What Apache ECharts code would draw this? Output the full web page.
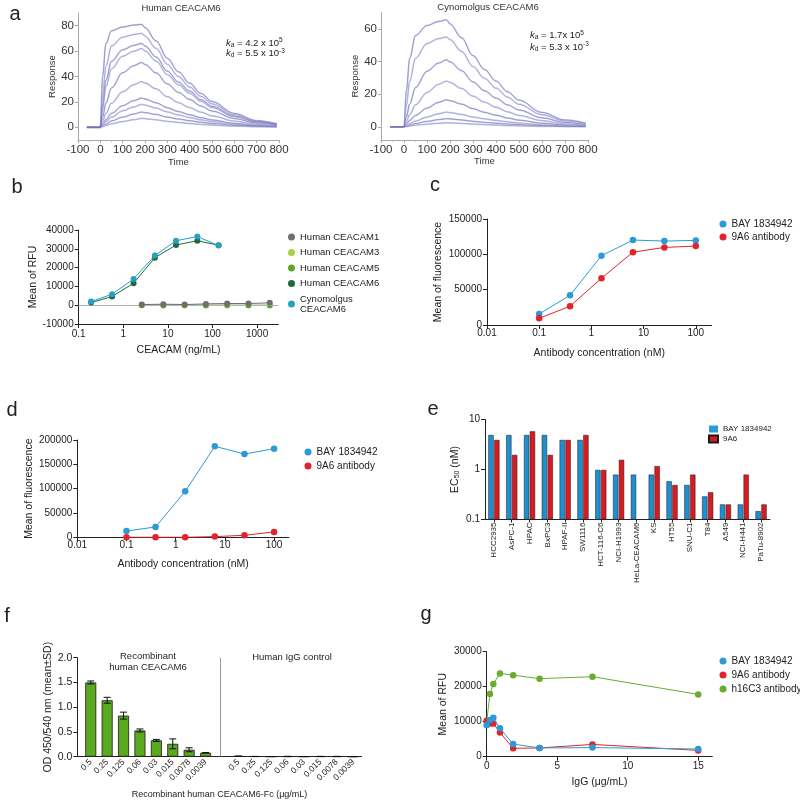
<!DOCTYPE html>
<html><head><meta charset="utf-8">
<script src="https://cdn.jsdelivr.net/npm/echarts@6/dist/echarts.min.js"></script>
<style>html,body{margin:0;padding:0;background:#fff}#c{width:800px;height:802px}</style>
</head><body><div id="c"></div>
<script>
// ---------- DATA ----------
// a: SPR sensorgrams (time in s, response)
const spr_time = [-60,0,10,25,50,100,150,185,200,250,300,350,400,450,500,600,700,790];
const spr_human = [
 [0,0,40,66,76,79,80.5,81,78.6,68,54.3,43.7,34.8,26.7,20.3,10.9,5.3,2.8],
 [0,0,25,48,64,71,73,74,71.8,62.2,49.6,40,31.8,24.4,18.5,10,4.8,2.6],
 [0,0,17,37,52,61,64.5,66,64,55.4,44.2,35.6,28.4,21.8,16.5,8.9,4.3,2.3],
 [0,0,14,32,46,56,60,62,60.1,52.1,41.5,33.5,26.7,20.5,15.5,8.4,4,2.2],
 [0,0,8,19,31,43,48.5,51,49.5,42.8,34.2,27.5,21.9,16.8,12.8,6.9,3.3,1.8],
 [0,0,4.5,11,19,28,33.5,36,34.9,30.2,24.1,19.4,15.5,11.9,9,4.9,2.3,1.3],
 [0,0,2.5,6,11,17,21,23,22.3,19.3,15.4,12.4,9.9,7.6,5.8,3.1,1.5,0.8],
 [0,0,2,4.5,8,13,16,18,17.5,15.1,12.1,9.7,7.7,5.9,4.5,2.4,1.2,0.6],
 [0,0,1,2.5,5,8,10.5,12,11.6,10.1,8,6.5,5.2,4,3,1.6,0.8,0.4],
 [0,0,0.5,1.5,2.7,4.5,6,7,6.8,5.9,4.7,3.8,3,2.3,1.8,0.9,0.5,0.2]
];
const spr_cyno = [
 [0,0,22,42,56,62,64.5,65.5,63,54.6,43.6,35.1,28,21.5,16.3,8.8,4.2,2.3],
 [0,0,13,28,42,51,54,55,53.4,46.2,36.9,29.7,23.7,18.2,13.8,7.4,3.6,1.9],
 [0,0,6,14,24,34,39,41,39.8,34.4,27.5,22.1,17.6,13.5,10.3,5.5,2.7,1.4],
 [0,0,3,7.5,13.5,21,26,28,27.2,23.5,18.8,15.1,12,9.2,7,3.8,1.8,1],
 [0,0,1.5,4,7,11.5,15,16.5,16,13.9,11.1,8.9,7.1,5.4,4.1,2.2,1.1,0.6],
 [0,0,0.7,2,3.5,6,8,9,8.7,7.6,6,4.9,3.9,3,2.3,1.2,0.6,0.3],
 [0,0,0.4,1,2,3.3,4.4,5,4.9,4.2,3.4,2.7,2.2,1.7,1.3,0.7,0.3,0.2],
 [0,0,0.2,0.5,1,1.6,2.2,2.5,2.4,2.1,1.7,1.4,1.1,0.8,0.6,0.3,0.2,0.1]
];
const a_ticksHuman = [0,20,40,60,80];
const a_ticksCyno = [0,20,40,60];

// b: CEACAM binding
const b_conc6 = [0.19,0.56,1.7,5.1,15.2,45.7,137];
const b_concOther = [2.6,7.9,23.7,71,213,640,1920];
const b_ceacam1 = [350,530,350,700,900,900,1250];
const b_ceacam3 = [-100,-150,-100,-100,-150,-150,-100];
const b_ceacam5 = [50,0,50,0,50,0,0];
const b_ceacam6 = [1400,4600,11700,25300,32000,34300,31900];
const b_cyno = [1950,5840,14000,26400,34300,36500,31700];

// c, d: antibody binding
const cd_conc = [0.1,0.39,1.56,6.25,25,100];
const c_bay = [15600,42100,98000,120200,118800,119700];
const c_9a6 = [9500,26500,66200,103000,109800,111700];
const d_bay = [13000,21200,94500,187000,171200,182200];
const d_9a6 = [100,100,100,1400,4100,11000];

// e: EC50 per cell line
const e_cells = ['HCC2935','AsPC-1','HPAC','BxPC3','HPAF-II','SW1116','HCT-116-C6','NCI-H1993','HeLa-CEACAM6','KS','HT55','SNU-C1','T84','A549','NCI-H441','PaTu-8902'];
const e_bay = [4.9,4.9,4.9,4.9,3.9,3.9,0.98,0.79,0.79,0.79,0.58,0.49,0.29,0.2,0.2,0.147];
const e_9a6 = [3.9,1.96,5.8,1.96,3.9,4.9,0.98,1.56,null,1.17,0.49,0.79,0.35,0.2,0.79,0.2];

// f: ELISA
const f_conc = ['0.5','0.25','0.125','0.06','0.03','0.015','0.0078','0.0039'];
const f_rec_mean = [1.50,1.14,0.83,0.53,0.33,0.26,0.14,0.08];
const f_rec_sd = [0.03,0.06,0.07,0.03,0.02,0.10,0.04,0.005];
const f_igg_mean = [0.01,0.005,0.003,0.005,0.003,0.005,0.005,0.002];
const f_igg_sd = [0.004,0,0,0.003,0,0.002,0.003,0];

// g: competition
const g_igg = [0,0.23,0.47,0.94,1.875,3.75,7.5,15];
const g_bay = [9000,10500,11100,8100,3600,2500,2600,2200];
const g_9a6 = [10300,9500,9500,6950,2400,2500,3500,1800];
const g_h16c3 = [10000,17900,20760,23800,23300,22300,22860,17800];

// ---------- STYLE HELPERS ----------
const FONT = '"Liberation Sans", Arial, Helvetica, sans-serif';
const INK = '#222';
function merge(a, b) {
  const out = Array.isArray(a) ? a.slice() : Object.assign({}, a);
  for (const k in b) {
    if (b[k] && typeof b[k] === 'object' && !Array.isArray(b[k]) && a[k] && typeof a[k] === 'object' && !Array.isArray(a[k])) out[k] = merge(a[k], b[k]);
    else out[k] = b[k];
  }
  return out;
}
const baseAxis = {
  nameLocation: 'middle',
  axisLine: {show: true, onZero: false, lineStyle: {color: INK, width: 1}},
  axisTick: {show: true, length: 4, lineStyle: {color: INK, width: 1}},
  splitLine: {show: false},
  axisLabel: {color: INK, fontSize: 10, fontFamily: FONT, margin: 5},
  nameTextStyle: {color: INK, fontSize: 10.5, fontFamily: FONT}
};
const greyAxis = merge(baseAxis, {
  axisLine: {lineStyle: {color: '#a8a8a8'}},
  axisTick: {length: 3, lineStyle: {color: '#a8a8a8'}},
  axisLabel: {fontSize: 11.5, color: '#333', margin: 4},
  nameTextStyle: {fontSize: 9.5, color: '#333'}
});
const numFmt = v => String(+(+v).toPrecision(4));
const pairs = (xs, ys) => xs.map((x, i) => [x, ys[i]]);

// ---------- BUILD ----------
const series = [];
function addSpr(curves, idx) {
  curves.forEach((c, k) => {
    const data = pairs(spr_time, c);
    series.push({type: 'line', xAxisIndex: idx, yAxisIndex: idx, data, showSymbol: false, silent: true,
      smooth: 0.35, smoothMonotone: 'x', lineStyle: {color: '#d3d3ee', width: 1.8}, z: 2});
    series.push({type: 'line', xAxisIndex: idx, yAxisIndex: idx, data, showSymbol: false, silent: true,
      smooth: 0.35, smoothMonotone: 'x', lineStyle: {color: k % 2 ? '#8686c4' : '#5a5aa6', width: 0.6, opacity: 0.85}, z: 3});
  });
}
addSpr(spr_human, 0);
addSpr(spr_cyno, 1);

function lineSeries(name, xi, xs, ys, color, size, z) {
  return {type: 'line', name, xAxisIndex: xi, yAxisIndex: xi, data: pairs(xs, ys),
    symbol: 'circle', symbolSize: size || 6.5, showAllSymbol: true,
    lineStyle: {color, width: 1}, itemStyle: {color}, z: z || 3};
}
// b
series.push(Object.assign(lineSeries('Human CEACAM1', 2, b_concOther, b_ceacam1, '#6e6f71', 6, 5), {
  markLine: {silent: true, symbol: 'none', label: {show: false}, lineStyle: {color: '#b5b5b5', width: 1, type: 'solid'}, data: [{yAxis: 0}]}
}));
series.push(lineSeries('Human CEACAM3', 2, b_concOther, b_ceacam3, '#a8d14a', 6, 3));
series.push(lineSeries('Human CEACAM5', 2, b_concOther, b_ceacam5, '#5ea52e', 6, 4));
series.push(lineSeries('Human CEACAM6', 2, b_conc6, b_ceacam6, '#1f6a3c', 6, 5));
series.push(lineSeries('Cynomolgus CEACAM6', 2, b_conc6, b_cyno, '#2a9fc6', 6, 6));
// c
series.push(lineSeries('BAY 1834942', 3, cd_conc, c_bay, '#2b9ad6'));
series.push(lineSeries('9A6 antibody', 3, cd_conc, c_9a6, '#e2232b'));
// d
series.push(lineSeries('BAY 1834942', 4, cd_conc, d_bay, '#2b9ad6'));
series.push(lineSeries('9A6 antibody', 4, cd_conc, d_9a6, '#e2232b'));
// e
series.push({type: 'bar', name: 'BAY 1834942', xAxisIndex: 5, yAxisIndex: 5, data: e_bay,
  barWidth: 5.3, barGap: '10%', itemStyle: {color: '#1f8fd2', borderColor: '#1a1a1a', borderWidth: 0.5}});
series.push({type: 'bar', name: '9A6', xAxisIndex: 5, yAxisIndex: 5, data: e_9a6.map(v => v == null ? '-' : v),
  barWidth: 5.3, barGap: '10%', itemStyle: {color: '#d81b22', borderColor: '#1a1a1a', borderWidth: 0.5}});
// f
const fRecX = f_conc.map((_, i) => i + 1);
const fIggX = f_conc.map((_, i) => i + 10);
const fBarStyle = {color: '#5aa91f', borderColor: '#1a1a1a', borderWidth: 0.8};
series.push({type: 'bar', xAxisIndex: 6, yAxisIndex: 6, data: pairs(fRecX, f_rec_mean), barWidth: 11, itemStyle: fBarStyle,
  markLine: {silent: true, symbol: 'none', label: {show: false}, lineStyle: {color: '#9a9a9a', width: 1, type: 'solid'}, data: [{xAxis: 8.9}]}});
series.push({type: 'bar', xAxisIndex: 6, yAxisIndex: 6, data: pairs(fIggX, f_igg_mean), barWidth: 11, barGap: '-100%', itemStyle: fBarStyle});
const errData = fRecX.map((x, i) => [x, f_rec_mean[i], f_rec_sd[i]]).concat(fIggX.map((x, i) => [x, f_igg_mean[i], f_igg_sd[i]]));
series.push({type: 'custom', xAxisIndex: 6, yAxisIndex: 6, data: errData, z: 10, silent: true,
  renderItem: (params, api) => {
    const x = api.value(0), m = api.value(1), s = api.value(2);
    const t = api.coord([x, m + s]), b = api.coord([x, m - s]);
    const w = 3.5, st = {stroke: '#111', lineWidth: 1};
    return {type: 'group', children: [
      {type: 'line', shape: {x1: t[0], y1: t[1], x2: b[0], y2: b[1]}, style: st},
      {type: 'line', shape: {x1: t[0] - w, y1: t[1], x2: t[0] + w, y2: t[1]}, style: st},
      {type: 'line', shape: {x1: b[0] - w, y1: b[1], x2: b[0] + w, y2: b[1]}, style: st}
    ]};
  }});
// g
series.push(lineSeries('h16C3 antibody', 7, g_igg, g_h16c3, '#6aac2e', 6.5, 3));
series.push(lineSeries('9A6 antibody', 7, g_igg, g_9a6, '#e2232b', 6.5, 4));
series.push(lineSeries('BAY 1834942', 7, g_igg, g_bay, '#2b9ad6', 6.5, 5));

const legendBase = {orient: 'vertical', itemWidth: 7, itemHeight: 7, icon: 'circle', selectedMode: false,
  textStyle: {color: INK, fontSize: 10, fontFamily: FONT}};

const fLabelMap = {};
fRecX.forEach((x, i) => fLabelMap[x] = f_conc[i]);
fIggX.forEach((x, i) => fLabelMap[x] = f_conc[i]);

const option = {
  animation: false,
  backgroundColor: '#fff',
  textStyle: {fontFamily: FONT},
  grid: [
    {left: 78, top: 13, width: 201, height: 127},
    {left: 381, top: 12.5, width: 207, height: 127.4},
    {left: 78.7, top: 230, width: 199.7, height: 94},
    {left: 487, top: 219, width: 224.5, height: 106},
    {left: 77.3, top: 440, width: 211.6, height: 97.3},
    {left: 485, top: 419.5, width: 285, height: 100},
    {left: 77.3, top: 657.7, width: 284.4, height: 99},
    {left: 486.7, top: 651.7, width: 225.6, height: 105}
  ],
  xAxis: [
    merge(greyAxis, {gridIndex: 0, type: 'value', min: -100, max: 800, interval: 100, name: 'Time', nameGap: 15,
      minorTick: {show: true, splitNumber: 2, length: 2, lineStyle: {color: '#bbb'}}}),
    merge(greyAxis, {gridIndex: 1, type: 'value', min: -100, max: 800, interval: 100, name: 'Time', nameGap: 15,
      minorTick: {show: true, splitNumber: 2, length: 2, lineStyle: {color: '#bbb'}}}),
    merge(baseAxis, {gridIndex: 2, type: 'log', logBase: 10, min: 0.1, max: 3000, name: 'CEACAM (ng/mL)', nameGap: 21,
      axisLabel: {formatter: numFmt, showMaxLabel: false}}),
    merge(baseAxis, {gridIndex: 3, type: 'log', logBase: 10, min: 0.01, max: 200, name: 'Antibody concentration (nM)', nameGap: 23,
      axisLabel: {formatter: numFmt, showMaxLabel: false, margin: 3}}),
    merge(baseAxis, {gridIndex: 4, type: 'log', logBase: 10, min: 0.01, max: 200, name: 'Antibody concentration (nM)', nameGap: 21,
      axisLabel: {formatter: numFmt, showMaxLabel: false, margin: 3}}),
    merge(baseAxis, {gridIndex: 5, type: 'category', data: e_cells,
      axisTick: {alignWithLabel: true, length: 3},
      axisLabel: {rotate: 90, fontSize: 8, margin: 3, interval: 0}}),
    merge(baseAxis, {gridIndex: 6, type: 'value', min: 0.18, max: 17.52, name: 'Recombinant human CEACAM6-Fc (μg/mL)', nameGap: 33,
      nameTextStyle: {fontSize: 9},
      axisTick: {show: false},
      axisLabel: {customValues: fRecX.concat(fIggX), rotate: 45, fontSize: 8.5, margin: 4, formatter: v => fLabelMap[v] || ''}}),
    merge(baseAxis, {gridIndex: 7, type: 'value', min: 0, max: 16, name: 'IgG (μg/mL)', nameGap: 20,
      axisLabel: {customValues: [0, 5, 10, 15]}, axisTick: {customValues: [0, 5, 10, 15]}})
  ],
  yAxis: [
    merge(greyAxis, {gridIndex: 0, type: 'value', min: -10, max: 90, name: 'Response', nameGap: 17,
      axisLabel: {customValues: a_ticksHuman}, axisTick: {customValues: a_ticksHuman}}),
    merge(greyAxis, {gridIndex: 1, type: 'value', min: -8, max: 70, name: 'Response', nameGap: 17,
      axisLabel: {customValues: a_ticksCyno}, axisTick: {customValues: a_ticksCyno}}),
    merge(baseAxis, {gridIndex: 2, type: 'value', min: -10000, max: 40000, interval: 10000, name: 'Mean of RFU', nameGap: 34,
      axisLabel: {formatter: v => String(v)}}),
    merge(baseAxis, {gridIndex: 3, type: 'value', min: 0, max: 150000, interval: 50000, name: 'Mean of fluorescence', nameGap: 43,
      axisLabel: {formatter: v => String(v)}}),
    merge(baseAxis, {gridIndex: 4, type: 'value', min: 0, max: 200000, interval: 50000, name: 'Mean of fluorescence', nameGap: 40,
      axisLabel: {formatter: v => String(v)}}),
    merge(baseAxis, {gridIndex: 5, type: 'log', logBase: 10, min: 0.1, max: 10, startValue: 0.1, name: 'EC{sub|50} (nM)', nameGap: 24,
      nameTextStyle: {rich: {sub: {fontSize: 7, padding: [5, 0, 0, 0], color: INK, fontFamily: FONT}}},
      axisLabel: {formatter: numFmt}}),
    merge(baseAxis, {gridIndex: 6, type: 'value', min: 0, max: 2, interval: 0.5, name: 'OD 450/540 nm (mean±SD)', nameGap: 20,
      axisLabel: {formatter: v => (+v).toFixed(1), fontSize: 10.5}}),
    merge(baseAxis, {gridIndex: 7, type: 'value', min: 0, max: 30000, interval: 10000, name: 'Mean of RFU', nameGap: 38,
      axisLabel: {formatter: v => String(v)}})
  ],
  legend: [
    merge(legendBase, {left: 283, top: 227, itemGap: 5.5, textStyle: {fontSize: 9.5},
      data: ['Human CEACAM1', 'Human CEACAM3', 'Human CEACAM5', 'Human CEACAM6', 'Cynomolgus CEACAM6'],
      formatter: n => n === 'Cynomolgus CEACAM6' ? 'Cynomolgus\nCEACAM6' : n}),
    merge(legendBase, {left: 714.5, top: 214, itemGap: 3, data: ['BAY 1834942', '9A6 antibody']}),
    merge(legendBase, {left: 299.5, top: 442, itemGap: 4, data: ['BAY 1834942', '9A6 antibody']}),
    merge(legendBase, {left: 703, top: 420, itemGap: 1.5, itemWidth: 9, itemHeight: 7, icon: 'rect',
      textStyle: {fontSize: 8}, data: ['BAY 1834942', '9A6']}),
    merge(legendBase, {left: 714.5, top: 651, itemGap: 4, data: ['BAY 1834942', '9A6 antibody', 'h16C3 antibody']})
  ],
  graphic: [
    ...[['a', 15, 14], ['b', 17, 187], ['c', 435, 185], ['d', 12, 410], ['e', 433, 409], ['f', 7, 616], ['g', 426, 614]].map(([t, x, y]) => ({
      type: 'text', style: {text: t, x, y, fontSize: 20, fontFamily: FONT, fill: INK, textAlign: 'center', textVerticalAlign: 'middle'}})),
    {type: 'text', style: {text: 'Human CEACAM6', x: 181, y: 8, fontSize: 9.5, fontFamily: FONT, fill: '#333', textAlign: 'center', textVerticalAlign: 'middle'}},
    {type: 'text', style: {text: 'Cynomolgus CEACAM6', x: 488, y: 7, fontSize: 9.5, fontFamily: FONT, fill: '#333', textAlign: 'center', textVerticalAlign: 'middle'}},
    ...[['{k|k}{sub|a} = 4.2 x 10{sup|5}', 226, 43], ['{k|k}{sub|d} = 5.5 x 10{sup|-3}', 226, 53.5],
        ['{k|k}{sub|a} = 1.7x 10{sup|5}', 530, 35.5], ['{k|k}{sub|d} = 5.3 x 10{sup|-3}', 530, 47]].map(([t, x, y]) => ({
      type: 'text', style: {text: t, x, y, fontSize: 9.5, fontFamily: FONT, fill: '#222', textVerticalAlign: 'middle',
        rich: {k: {fontStyle: 'italic', fontSize: 9.5, fontFamily: FONT, fill: '#222'},
               sub: {fontSize: 6.5, fontFamily: FONT, fill: '#222', padding: [4, 0, 0, 0]},
               sup: {fontSize: 6.5, fontFamily: FONT, fill: '#222', padding: [0, 0, 5, 0]}}}})),
    {type: 'text', style: {text: 'Recombinant\nhuman CEACAM6', x: 148, y: 662, fontSize: 9.5, lineHeight: 10.5, fontFamily: FONT, fill: INK, textAlign: 'center', textVerticalAlign: 'middle'}},
    {type: 'text', style: {text: 'Human IgG control', x: 292, y: 657, fontSize: 9.5, fontFamily: FONT, fill: INK, textAlign: 'center', textVerticalAlign: 'middle'}}
  ],
  series
};
const chart = echarts.init(document.getElementById('c'), null, {renderer: 'canvas'});
chart.setOption(option);
</script></body></html>
